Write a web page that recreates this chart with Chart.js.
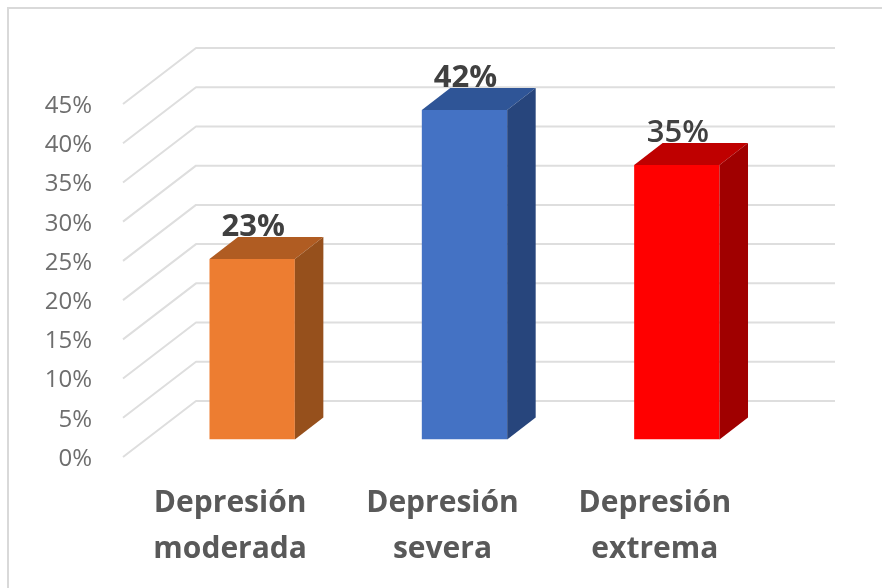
<!DOCTYPE html>
<html>
<head>
<meta charset="utf-8">
<style>
  html, body { margin: 0; padding: 0; background: #fff; }
  canvas { display: block; filter: blur(0.5px); }
</style>
<script src="https://cdn.jsdelivr.net/npm/chart.js@4/dist/chart.umd.min.js"></script>
</head>
<body>
<canvas id="grafico" width="882" height="588"></canvas>
<script>
var categorias = [["Depresión", "moderada"], ["Depresión", "severa"], ["Depresión", "extrema"]];
var valores = [23, 42, 35];
var ticksY = [0, 5, 10, 15, 20, 25, 30, 35, 40, 45];

var coresFrente = ["#ED7D31", "#4472C4", "#FF0000"];
var coresTopo = ["#B05C22", "#2F5597", "#BF0000"];
var coresLado = ["#96501C", "#27457C", "#A00000"];
var pesosRotulo = ["bold", "bold", "600"];

var fonte = "'Open Sans', sans-serif";

// profundidade da parede do fundo e das barras
var paredeX = 73, paredeY = -58;
var barraX = 28.5, barraY = -22;
var moverX = 22, moverY = -19.5;

var efeito3d = {
    id: 'efeito3d',
    beforeDraw: function (chart) {
        var ctx = chart.ctx;
        ctx.save();
        ctx.strokeStyle = "#d9d9d9";
        ctx.lineWidth = 2;
        ctx.beginPath();
        ctx.moveTo(8, 588);
        ctx.lineTo(8, 8);
        ctx.lineTo(882, 8);
        ctx.stroke();
        ctx.restore();
    },
    beforeDatasetsDraw: function (chart) {
        var ctx = chart.ctx;
        var area = chart.chartArea;
        var y = chart.scales.y;
        ctx.save();
        ctx.strokeStyle = "#dedede";
        ctx.lineWidth = 2;
        ctx.lineJoin = "round";
        ticksY.forEach(function (t) {
            var py = y.getPixelForValue(t);
            ctx.beginPath();
            ctx.moveTo(area.left - 1, py - 2);
            ctx.lineTo(area.left - 1 + paredeX, py + paredeY);
            ctx.lineTo(area.right + 1 + paredeX, py + paredeY);
            ctx.stroke();
        });
        ctx.restore();
        ctx.save();
        ctx.translate(moverX, moverY);
    },
    afterDatasetsDraw: function (chart) {
        var ctx = chart.ctx;
        var barras = chart.getDatasetMeta(0).data;
        barras.forEach(function (b, i) {
            var esq = b.x - b.width / 2, dir = b.x + b.width / 2;
            // rotulo primeiro, o topo da barra cobre a parte de baixo
            ctx.fillStyle = "#404040";
            ctx.font = pesosRotulo[i] + " 31px " + fonte;
            ctx.textAlign = "center";
            ctx.textBaseline = "middle";
            ctx.fillText(valores[i] + "%", b.x + 1, b.y - 31.5);
            // topo
            ctx.fillStyle = coresTopo[i];
            ctx.beginPath();
            ctx.moveTo(esq, b.y);
            ctx.lineTo(esq + barraX, b.y + barraY);
            ctx.lineTo(dir + barraX, b.y + barraY);
            ctx.lineTo(dir, b.y);
            ctx.closePath();
            ctx.fill();
            // lado
            ctx.fillStyle = coresLado[i];
            ctx.beginPath();
            ctx.moveTo(dir, b.y);
            ctx.lineTo(dir + barraX, b.y + barraY);
            ctx.lineTo(dir + barraX, b.base + barraY);
            ctx.lineTo(dir, b.base);
            ctx.closePath();
            ctx.fill();
        });
        ctx.restore();
    }
};

var grafico = new Chart(document.getElementById("grafico").getContext('2d'), {
    type: 'bar',
    data: {
        labels: categorias,
        datasets: [{
            data: valores,
            backgroundColor: coresFrente,
            borderWidth: 0,
            barPercentage: 0.402,
            categoryPercentage: 1
        }]
    },
    plugins: [efeito3d],
    options: {
        responsive: false,
        animation: false,
        layout: { padding: { top: 106, right: 121, left: 0, bottom: 0 } },
        plugins: { legend: { display: false }, tooltip: { enabled: false } },
        scales: {
            x: {
                afterFit: function (s) { s.height = 129; },
                grid: { display: false },
                border: { display: false },
                ticks: {
                    maxRotation: 0,
                    padding: 14,
                    color: "#595959",
                    font: { family: fonte, size: 30, weight: 'bold', lineHeight: 1.52 }
                }
            },
            y: {
                min: 0,
                max: 45,
                afterFit: function (s) { s.width = 124; },
                afterBuildTicks: function (s) {
                    s.ticks = ticksY.map(function (t) { return { value: t }; });
                },
                grid: { display: false },
                border: { display: false },
                ticks: {
                    padding: 24,
                    color: "#6e6e6e",
                    font: { family: fonte, size: 24 },
                    callback: function (v) { return v + "%"; }
                }
            }
        }
    }
});
</script>
</body>
</html>
